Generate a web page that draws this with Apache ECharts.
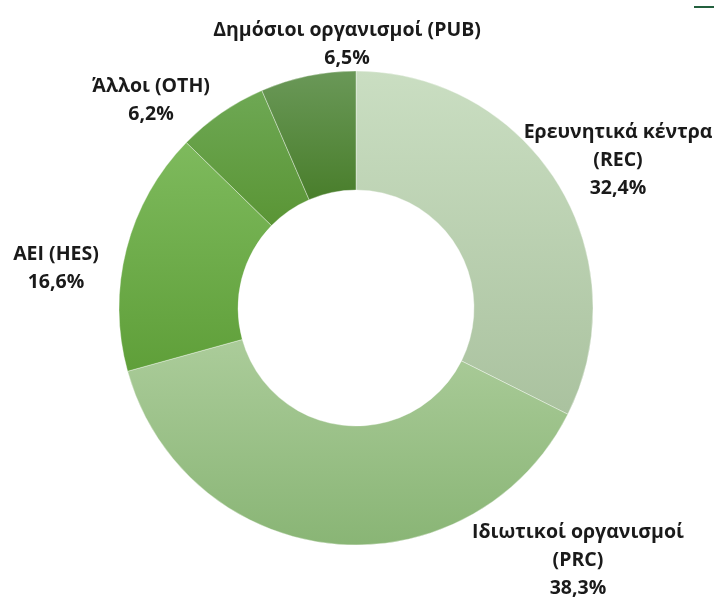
<!DOCTYPE html>
<html>
<head>
<meta charset="utf-8">
<script src="https://cdn.jsdelivr.net/npm/echarts@6/dist/echarts.min.js"></script>
<style>
  html, body { margin: 0; padding: 0; background: #fff; }
  #chart { width: 714px; height: 611px; }
</style>
</head>
<body>
<div id="chart"></div>
<script>
// categories (clockwise from the top)
const categories = ['Ερευνητικά κέντρα\n(REC)', 'Ιδιωτικοί οργανισμοί\n(PRC)', 'ΑΕΙ (HES)', 'Άλλοι (OTH)', 'Δημόσιοι οργανισμοί (PUB)'];
const shares = [32.4, 38.3, 16.6, 6.2, 6.5];

// gradient top/bottom colours per slice
const topColors = ['#cadec2', '#abcc9a', '#7eba5d', '#6ea854', '#6a9858'];
const bottomColors = ['#aac29f', '#89b575', '#5f9f39', '#5a9535', '#497e2b'];
// label block centres
const labelPos = [[618, 160], [578, 560], [56, 268], [151, 100], [347, 44]];

const myChart = echarts.init(document.getElementById('chart'));

const option = {
  animation: false,
  graphic: [{
    type: 'line',
    shape: { x1: 694, y1: 7, x2: 714, y2: 7 },
    style: { stroke: '#23603e', lineWidth: 2 }
  }],
  series: [{
    type: 'pie',
    center: [356, 308],
    radius: [118, 237],
    startAngle: 90,
    clockwise: true,
    itemStyle: { borderColor: 'rgba(255,255,255,0.6)', borderWidth: 0.6 },
    label: {
      show: true,
      position: 'outside',
      fontFamily: 'Open Sans',
      fontWeight: 'bold',
      fontSize: 19.5,
      lineHeight: 28,
      color: '#1a1a1a',
      align: 'center',
      overflow: 'none',
      formatter: p => p.name + '\n' + p.value.toFixed(1).replace('.', ',') + '%'
    },
    labelLine: { show: false },
    labelLayout: p => ({
      x: labelPos[p.dataIndex][0],
      y: labelPos[p.dataIndex][1],
      align: 'center',
      verticalAlign: 'middle'
    }),
    emphasis: { disabled: true },
    data: categories.map((c, i) => ({
      name: c,
      value: shares[i],
      itemStyle: {
        color: new echarts.graphic.LinearGradient(0, 0, 0, 1, [
          { offset: 0, color: topColors[i] },
          { offset: 1, color: bottomColors[i] }
        ])
      }
    }))
  }]
};

myChart.setOption(option);
</script>
</body>
</html>
